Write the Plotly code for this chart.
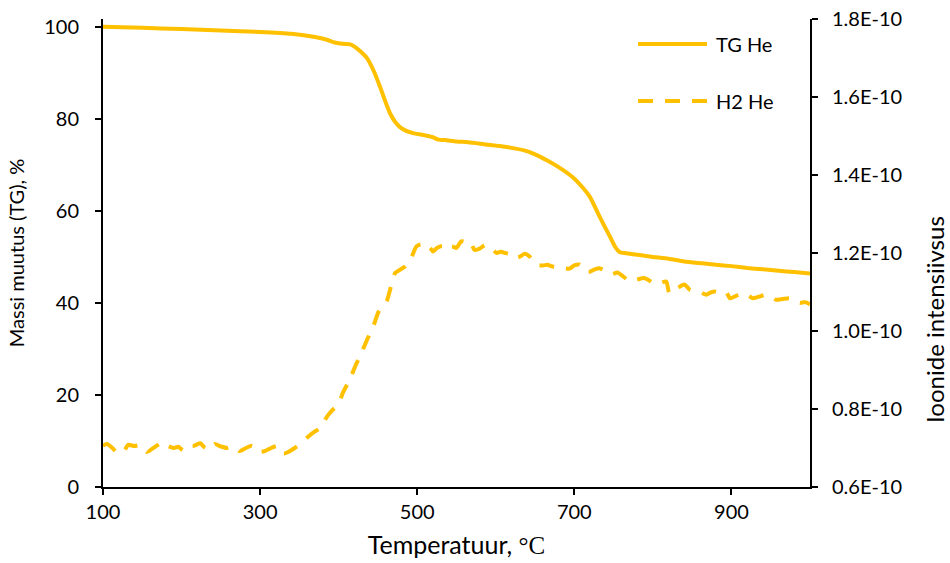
import numpy as np
import plotly.graph_objects as go

# Thermogravimetric mass change (%) in helium
tg_temp = [100, 150, 200, 250, 300, 340, 370, 385, 395, 405, 415, 422, 430, 436, 445,
           453, 460, 466, 472, 478, 486, 495, 508, 520, 527, 535, 550, 565, 585, 605,
           620, 635, 650, 665, 680, 698, 710, 720, 732, 745, 752, 758, 766, 783, 800,
           820, 840, 863, 880, 900, 920, 940, 960, 980, 1000]
tg_mass = [100.0, 99.8, 99.5, 99.2, 98.9, 98.5, 97.8, 97.2, 96.6, 96.3, 96.2, 95.5, 94.3,
           93.2, 90.3, 86.8, 83.5, 81.0, 79.3, 78.2, 77.4, 76.9, 76.5, 76.0, 75.5, 75.4,
           75.1, 74.9, 74.5, 74.1, 73.7, 73.2, 72.3, 71.0, 69.5, 67.3, 65.2, 63.0, 58.8,
           54.5, 52.2, 51.0, 50.8, 50.4, 50.0, 49.6, 49.0, 48.6, 48.3, 48.0, 47.6, 47.3,
           47.0, 46.7, 46.4]

# H2 ion current (in units of 1E-10) in helium
h2_temp = [100, 105, 112, 118, 126, 132, 140, 148, 156, 164, 170, 176, 183, 190, 196, 202,
           208, 216, 224, 230, 236, 242, 250, 258, 266, 274, 282, 290, 298, 306, 314, 322,
           330, 336, 344, 352, 360, 368, 376, 385, 392, 400, 405, 414, 421, 429, 436, 444,
           450, 456, 461, 466, 472, 478, 485, 491, 495, 499, 505, 510, 516, 520, 525, 532,
           538, 544, 550, 556, 562, 567, 573, 580, 586, 592, 601, 606, 612, 618, 622, 630,
           637, 643, 652, 660, 666, 671, 678, 686, 694, 700, 707, 713, 720, 726, 732, 741,
           748, 755, 762, 772, 780, 789, 795, 800, 808, 817, 821, 830, 840, 847, 855, 862,
           868, 874, 879, 886, 893, 898, 906, 914, 920, 927, 935, 944, 950, 957, 965, 974,
           980, 987, 994, 1000]
h2_e10 = [0.706, 0.710, 0.700, 0.688, 0.690, 0.708, 0.705, 0.708, 0.690, 0.700, 0.708,
          0.715, 0.705, 0.700, 0.703, 0.694, 0.706, 0.706, 0.712, 0.700, 0.696, 0.710,
          0.704, 0.700, 0.705, 0.692, 0.700, 0.706, 0.690, 0.692, 0.700, 0.705, 0.686,
          0.690, 0.700, 0.712, 0.727, 0.740, 0.751, 0.780, 0.797, 0.812, 0.840, 0.875,
          0.909, 0.943, 0.977, 1.011, 1.046, 1.066, 1.076, 1.110, 1.149, 1.157, 1.166,
          1.180, 1.200, 1.217, 1.222, 1.212, 1.214, 1.204, 1.213, 1.218, 1.210, 1.217,
          1.213, 1.230, 1.228, 1.230, 1.208, 1.212, 1.220, 1.217, 1.200, 1.203, 1.200,
          1.196, 1.187, 1.190, 1.198, 1.191, 1.170, 1.168, 1.170, 1.166, 1.164, 1.161,
          1.160, 1.168, 1.170, 1.153, 1.152, 1.158, 1.161, 1.153, 1.146, 1.150, 1.140,
          1.127, 1.132, 1.136, 1.130, 1.123, 1.122, 1.127, 1.097, 1.108, 1.119, 1.106,
          1.102, 1.098, 1.093, 1.099, 1.101, 1.098, 1.101, 1.084, 1.090, 1.097, 1.093,
          1.084, 1.088, 1.093, 1.090, 1.080, 1.082, 1.084, 1.078, 1.072, 1.074, 1.068]
h2_current = np.array(h2_e10) * 1e-10

x_ticks = [100, 300, 500, 700, 900]
left_ticks = [0, 20, 40, 60, 80, 100]
right_tick_vals = [0.6e-10, 0.8e-10, 1.0e-10, 1.2e-10, 1.4e-10, 1.6e-10, 1.8e-10]
right_tick_text = ["0.6E-10", "0.8E-10", "1.0E-10", "1.2E-10", "1.4E-10", "1.6E-10", "1.8E-10"]

GOLD = "#FFC000"
FONT = "Lato"

fig = go.Figure()
fig.add_trace(go.Scatter(x=tg_temp, y=tg_mass, name="TG He", mode="lines",
                         line=dict(color=GOLD, width=4, shape="spline", smoothing=0.6),
                         yaxis="y"))
fig.add_trace(go.Scatter(x=h2_temp, y=h2_current, name="H2 He", mode="lines",
                         line=dict(color=GOLD, width=4, dash="15px,12px",
                                   shape="spline", smoothing=0.6),
                         yaxis="y2"))

axis_common = dict(showgrid=False, zeroline=False, showline=True, linecolor="black",
                   linewidth=2, ticks="outside", ticklen=6, tickwidth=1.5,
                   tickcolor="black", automargin=False,
                   tickfont=dict(family=FONT, size=20, color="black"))

fig.update_layout(
    width=950, height=563,
    margin=dict(l=103, r=140, t=19, b=76, autoexpand=False),
    paper_bgcolor="white", plot_bgcolor="white",
    showlegend=False,
    xaxis=dict(range=[100, 1000], tickvals=x_ticks, **axis_common,
               title=dict(text="Temperatuur, <span style='font-family:Liberation Serif'>°C</span>",
                          font=dict(family=FONT, size=25, color="black"), standoff=14)),
    yaxis=dict(range=[0, 101.7], tickvals=left_ticks, ticklabelstandoff=12, **axis_common,
               title=dict(text="Massi muutus (TG), %",
                          font=dict(family=FONT, size=20, color="black"), standoff=14)),
    yaxis2=dict(range=[0.6e-10, 1.8e-10], overlaying="y", side="right",
                tickvals=right_tick_vals, ticktext=right_tick_text,
                ticklabelstandoff=10, **axis_common),
)

# Right-hand axis title
fig.add_annotation(text="Ioonide intensiivsus", xref="paper", yref="paper",
                   x=(935 - 103) / 707, y=(487 - 320) / 468, textangle=-90,
                   showarrow=False, font=dict(family=FONT, size=24, color="black"),
                   xanchor="center", yanchor="middle")

# Legend drawn as line samples with labels
legend_items = [("TG He", "solid", 44), ("H2 He", "15px,12px", 101)]
for label, dash, py in legend_items:
    yp = (487 - py) / 468
    fig.add_shape(type="line", xref="paper", yref="paper",
                  x0=(638 - 103) / 707, x1=(707 - 103) / 707, y0=yp, y1=yp,
                  line=dict(color=GOLD, width=4, dash=dash))
    fig.add_annotation(text=label, xref="paper", yref="paper",
                       x=(714 - 103) / 707, y=yp, showarrow=False,
                       xanchor="left", yanchor="middle",
                       font=dict(family=FONT, size=20, color="black"))

fig.write_html("out.html")
